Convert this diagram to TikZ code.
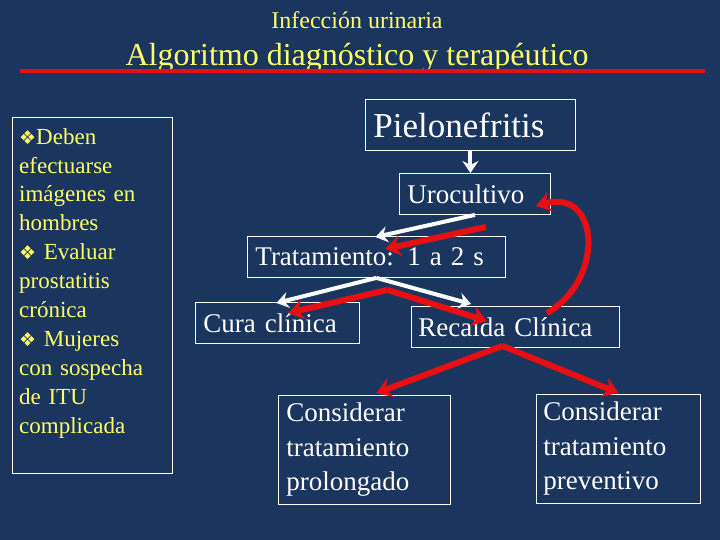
\documentclass[tikz,border=0pt]{standalone}
\usepackage{fontspec}
\setmainfont{Liberation Serif}
\newfontfamily\dejavu{DejaVu Sans}
\usetikzlibrary{arrows.meta,calc}
\definecolor{bg}{RGB}{27,54,94}
\definecolor{ttl}{RGB}{255,255,102}
\definecolor{rd}{RGB}{232,14,18}
\newcommand{\dmd}{{\dejavu\fontsize{19}{19}\selectfont ❖}}
\begin{document}
\begin{tikzpicture}[x=1pt,y=-1pt,
 box/.style={draw=white, line width=0.9pt, text=white, anchor=north west, align=left,
   inner xsep=8pt, inner ysep=0pt, font=\fontsize{27}{34.5}\selectfont},
 warrow/.style={draw=white, line width=4pt, -{Stealth[width=16pt,length=12pt,inset=4pt]}},
 rarrow/.style={draw=rd, line width=6pt, -{Stealth[width=20pt,length=15pt,inset=5pt]}},
]
\fill[bg] (0,0) rectangle (720,540);
\useasboundingbox (0,0) rectangle (720,540);
% titles
\node[anchor=base, text=ttl, inner sep=0, font=\fontsize{24}{28}\selectfont] (t1) at (357,29) {Infección urinaria};
\node[anchor=base, text=ttl, inner sep=0, font=\fontsize{32}{36}\selectfont] (t2) at (357,66) {Algoritmo diagnóstico y terapéutico};
\draw[rd, line width=4pt] (20,71) -- (705,71);
% left notes
\draw[white, line width=0.9pt] (12,117) rectangle (172,473);
\node[anchor=north west, inner sep=0, text width=150pt, align=left, text=ttl,
  font=\fontsize{23}{28.9}\selectfont] (notes) at (19,128)
 {\dmd Deben\\ efectuarse\\ imágenes en\\ hombres\\ \dmd{} Evaluar\\ prostatitis\\ crónica\\ \dmd{} Mujeres\\ con sospecha\\ de ITU\\ complicada};
% boxes
\node[box, text width=194pt, minimum height=51pt, font=\fontsize{35}{40}\selectfont] (piel) at (365,99) {Pielonefritis};
\node[box, text width=135pt, minimum height=41pt] (uro) at (399,173) {Urocultivo};
\node[box, text width=242pt, minimum height=41pt] (trat) at (247,236) {Tratamiento: 1 a 2 s};
\node[box, text width=148pt, minimum height=41pt] (cura) at (195,302) {Cura clínica};
\node[box, text width=194pt, minimum height=41pt, inner xsep=7pt] (reca) at (411,306) {Recaída Clínica};
\node[box, text width=156pt, minimum height=109pt] (prol) at (278,395) {Considerar\\ tratamiento\\ prolongado};
\node[box, text width=150pt, minimum height=109pt, inner xsep=7pt] (prev) at (536,394) {Considerar\\ tratamiento\\ preventivo};
% white arrows
\draw[warrow] (piel.south) -- (piel.south |- uro.north);
\draw[warrow] (uro.south) -- ($(trat.north)+(-1,1)$);
\draw[warrow] (trat.south) -- ($(cura.north)+(-1,1)$);
\draw[warrow] (trat.south) -- ($(reca.north west)+(60,-2)$);
% red arrows
\draw[rarrow] ($(uro.south)+(11,12)$) -- ($(trat.north)+(9,13)$);
\draw[rarrow] ($(trat.south)+(11,12)$) -- ($(cura.north)+(11,11)$);
\draw[rarrow] ($(trat.south)+(11,12)$) -- ($(reca.north west)+(76,15)$);
\draw[rarrow] ($(reca.north west)+(136,7)$) .. controls (605,280) and (600,188) .. ($(uro.south east)+(-15,-9)$);
\draw[rarrow] ($(reca.south)+(-13,-2)$) -- ($(prol.north)+(12,-2)$);
\draw[rarrow] ($(reca.south)+(-13,-2)$) -- ($(prev.north)+(0,-1)$);
\end{tikzpicture}
\end{document}
